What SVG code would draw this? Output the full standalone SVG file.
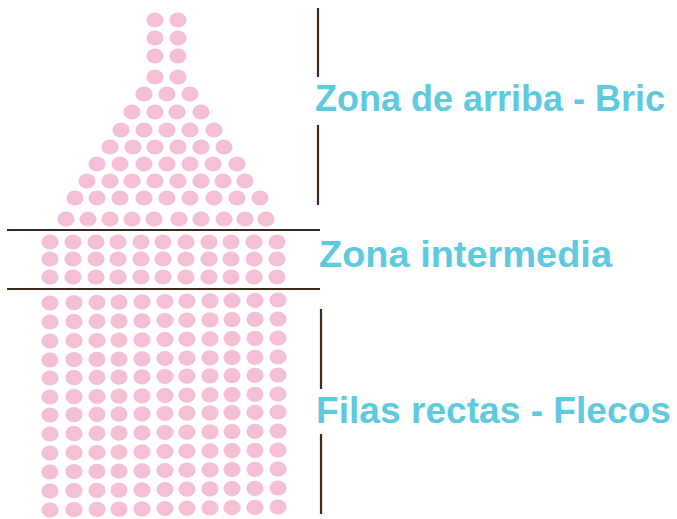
<svg xmlns="http://www.w3.org/2000/svg" xmlns:xlink="http://www.w3.org/1999/xlink" width="677" height="519" viewBox="0 0 677 519">
<style>
.bead{fill:#f4bfd7}
.ln{stroke:#3e2a1d;stroke-width:2.2;fill:none}
.lbl{font-family:"Liberation Sans",Arial,sans-serif;font-weight:bold;font-size:37.5px;fill:#5fc9df}
</style>
<defs><ellipse id="b" class="bead" rx="8.6" ry="7.6"/></defs>
<rect width="677" height="519" fill="#fff"/>
<g id="zona-arriba">
<use href="#b" x="155" y="20"/><use href="#b" x="178" y="20"/>
<use href="#b" x="155" y="38"/><use href="#b" x="178" y="38"/>
<use href="#b" x="155" y="56"/><use href="#b" x="178" y="56"/>
<use href="#b" x="155" y="77"/><use href="#b" x="178" y="77"/>
<use href="#b" x="144" y="94"/><use href="#b" x="167" y="94"/><use href="#b" x="190" y="94"/>
<use href="#b" x="132" y="112"/><use href="#b" x="155" y="112"/><use href="#b" x="177" y="112"/><use href="#b" x="201" y="112"/>
<use href="#b" x="121" y="130"/><use href="#b" x="144" y="130"/><use href="#b" x="167" y="130"/><use href="#b" x="190" y="130"/><use href="#b" x="214" y="130"/>
<use href="#b" x="110" y="147"/><use href="#b" x="133" y="147"/><use href="#b" x="155" y="147"/><use href="#b" x="178" y="147"/><use href="#b" x="201" y="147"/><use href="#b" x="224" y="147"/>
<use href="#b" x="97" y="164"/><use href="#b" x="120" y="164"/><use href="#b" x="144" y="164"/><use href="#b" x="167" y="164"/><use href="#b" x="190" y="164"/><use href="#b" x="213" y="164"/><use href="#b" x="237" y="164"/>
<use href="#b" x="87" y="181"/><use href="#b" x="110" y="181"/><use href="#b" x="132" y="181"/><use href="#b" x="155" y="181"/><use href="#b" x="178" y="181"/><use href="#b" x="201" y="181"/><use href="#b" x="223" y="181"/><use href="#b" x="245" y="181"/>
<use href="#b" x="75" y="198"/><use href="#b" x="97" y="198"/><use href="#b" x="120" y="198"/><use href="#b" x="144" y="198"/><use href="#b" x="167" y="198"/><use href="#b" x="190" y="198"/><use href="#b" x="214" y="198"/><use href="#b" x="237" y="198"/><use href="#b" x="260" y="198"/>
<use href="#b" x="66" y="219"/><use href="#b" x="88" y="219"/><use href="#b" x="110" y="219"/><use href="#b" x="132" y="219"/><use href="#b" x="154" y="219"/><use href="#b" x="179" y="219"/><use href="#b" x="201" y="219"/><use href="#b" x="224" y="219"/><use href="#b" x="245" y="219"/><use href="#b" x="266" y="219"/>
</g>
<g id="zona-intermedia">
<use href="#b" x="50" y="242"/><use href="#b" x="73" y="242"/><use href="#b" x="96" y="242"/><use href="#b" x="118" y="242"/><use href="#b" x="141" y="242"/><use href="#b" x="163" y="242"/><use href="#b" x="186" y="242"/><use href="#b" x="209" y="242"/><use href="#b" x="231" y="242"/><use href="#b" x="254" y="242"/><use href="#b" x="277" y="242"/>
<use href="#b" x="50" y="259"/><use href="#b" x="73" y="259"/><use href="#b" x="96" y="259"/><use href="#b" x="118" y="259"/><use href="#b" x="141" y="259"/><use href="#b" x="163" y="259"/><use href="#b" x="186" y="259"/><use href="#b" x="209" y="259"/><use href="#b" x="231" y="259"/><use href="#b" x="254" y="259"/><use href="#b" x="277" y="259"/>
<use href="#b" x="50" y="277"/><use href="#b" x="73" y="277"/><use href="#b" x="96" y="277"/><use href="#b" x="118" y="277"/><use href="#b" x="141" y="277"/><use href="#b" x="163" y="277"/><use href="#b" x="186" y="277"/><use href="#b" x="209" y="277"/><use href="#b" x="231" y="277"/><use href="#b" x="254" y="277"/><use href="#b" x="277" y="277"/>
</g>
<g id="filas-rectas">
<g id="fila" >
<use href="#b" x="50" y="303"/><use href="#b" x="74" y="302.7"/><use href="#b" x="97" y="302.4"/><use href="#b" x="119" y="302.1"/><use href="#b" x="142" y="301.8"/><use href="#b" x="165" y="301.5"/><use href="#b" x="187" y="301.2"/><use href="#b" x="210" y="300.9"/><use href="#b" x="232" y="300.6"/><use href="#b" x="255" y="300.3"/><use href="#b" x="278" y="300"/>
</g>
<use href="#fila" y="19"/>
<use href="#fila" y="38"/>
<use href="#fila" y="57"/>
<use href="#fila" y="75"/>
<use href="#fila" y="94"/>
<use href="#fila" y="112"/>
<use href="#fila" y="131"/>
<use href="#fila" y="150"/>
<use href="#fila" y="169"/>
<use href="#fila" y="188"/>
<use href="#fila" y="207"/>
</g>
<g id="connectors">
<line class="ln" x1="7" y1="230" x2="320" y2="230"/>
<line class="ln" x1="7" y1="289" x2="320" y2="289"/>
<line class="ln" x1="318" y1="8" x2="318" y2="77"/>
<line class="ln" x1="318" y1="125" x2="318" y2="205"/>
<line class="ln" x1="321" y1="309" x2="321" y2="389"/>
<line class="ln" x1="321" y1="434" x2="321" y2="514"/>
</g>
<g id="labels">
<text class="lbl" x="315" y="111" style="font-size:36px">Zona de arriba - Bric</text>
<text class="lbl" x="319" y="267" textLength="293" lengthAdjust="spacingAndGlyphs">Zona intermedia</text>
<text class="lbl" x="316" y="423" textLength="355" lengthAdjust="spacingAndGlyphs">Filas rectas - Flecos</text>
</g>
</svg>
